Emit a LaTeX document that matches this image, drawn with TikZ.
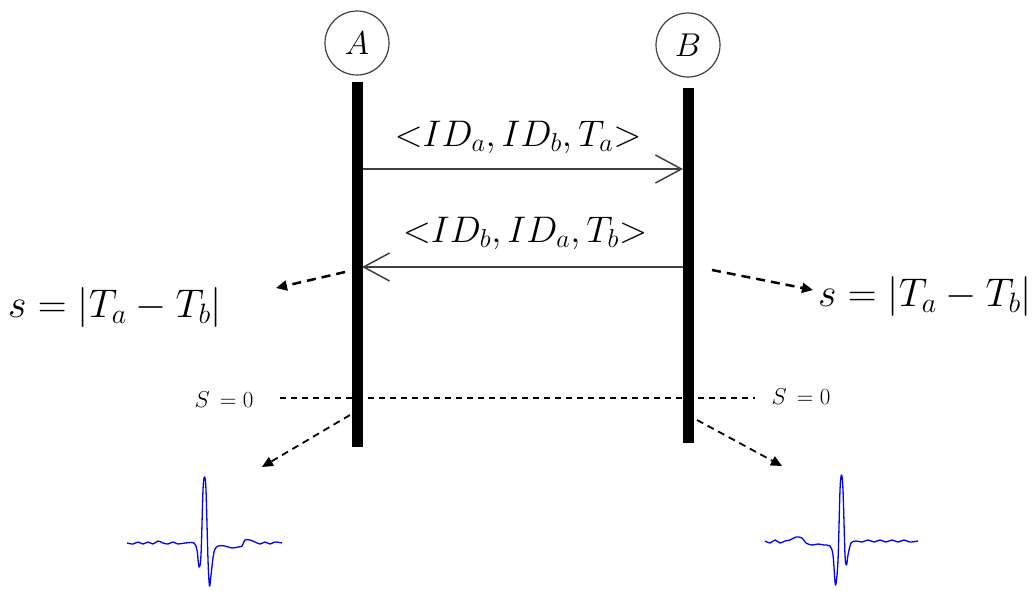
\RequirePackage{fix-cm}
\documentclass[tikz,border=0pt]{standalone}
\usetikzlibrary{arrows.meta}
\begin{document}
\begin{tikzpicture}[x=1pt,y=-1pt,
  party/.style={circle,draw=black!75,line width=1.2pt,minimum size=64pt,inner sep=0pt,font=\fontsize{33}{33}\selectfont},
  lifeline/.style={line width=11pt,black},
  msg/.style={draw=black!75,line width=1.5pt,-{Straight Barb[length=26pt,width=28pt,line width=1.5pt]}},
  msglabel/.style={font=\fontsize{37}{37}\selectfont},
  eqlabel/.style={font=\fontsize{40}{40}\selectfont},
  szlabel/.style={font=\fontsize{23}{23}\selectfont},
  note/.style={line width=2.5pt,dash pattern=on 9pt off 6pt,-{Triangle[length=11pt,width=10pt]}},
  lownote/.style={note,line width=1.8pt,dash pattern=on 7pt off 5pt},
  zeroline/.style={line width=1.5pt,dash pattern=on 6pt off 5pt},
  wave/.style={blue,line width=1.3pt,line join=round}
]
\useasboundingbox (0,0) rectangle (1035,590);
% parties
\node[party] (A) at (357,43) {$A$};
\node[party] (B) at (688,45) {$B$};
% lifelines
\coordinate (Atop) at (357,82);
\coordinate (Abot) at (357,447);
\coordinate (Btop) at (688,88);
\coordinate (Bbot) at (688,443);
\draw[lifeline] (Atop) -- (Abot);
\draw[lifeline] (Btop) -- (Bbot);
% messages
\coordinate (m1s) at (363,169);
\coordinate (m1e) at (683,169);
\coordinate (m2s) at (683,267);
\coordinate (m2e) at (362,267);
\draw[msg] (m1s) -- (m1e);
\draw[msg] (m2s) -- (m2e);
\node[msglabel] (l1) at (518,137) {${<}ID_a,ID_b,T_a{>}$};
\node[msglabel] (l2) at (525,233) {${<}ID_b,ID_a,T_b{>}$};
% s equations
\node[eqlabel] (eqL) at (115,307) {$s=|T_a-T_b|$};
\node[eqlabel] (eqR) at (925,296) {$s=|T_a-T_b|$};
\coordinate (nL1) at (345,272);
\coordinate (nL2) at (276,288);
\coordinate (nR1) at (712,270);
\coordinate (nR2) at (813,290);
\draw[note] (nL1) -- (nL2);
\draw[note] (nR1) -- (nR2);
% S = 0 line
\node[szlabel] (sL) at (224,400) {$S\,=0$};
\node[szlabel] (sR) at (801,397) {$S\,=0$};
\coordinate (zL) at (280,398);
\coordinate (zR) at (755,398);
\draw[zeroline] (zL) -- (zR);
% lower arrows
\coordinate (dL1) at (350,415);
\coordinate (dL2) at (262,467);
\coordinate (dR1) at (697,420);
\coordinate (dR2) at (782,466);
\draw[lownote] (dL1) -- (dL2);
\draw[lownote] (dR1) -- (dR2);
% waveforms
\draw[wave] plot[smooth,tension=0.5] coordinates {(127,543) (133,544) (138,542) (143,544) (148,542) (153,544) (158,541) (163,543) (168,544) (173,542) (178,544) (185,543) (194,543) (197,550) (199,567) (201,555) (203,490) (204.5,477) (206,490) (208,560) (209.5,586) (211,575) (214,552) (218,546) (225,546) (232,548) (238,547) (242,546) (245,540) (250,540) (255,542) (260,544) (265,542) (270,544) (275,542) (282,543)};
\draw[wave] plot[smooth,tension=0.5] coordinates {(765,541) (770,543) (775,540) (780,543) (785,541) (790,540) (796,537) (802,538) (806,543) (812,545) (818,544) (824,545) (830,546) (833,555) (835.5,585) (838,560) (840,490) (841.5,475) (843,490) (845,555) (846.5,565) (848,555) (851,543) (856,541) (862,542) (868,540) (874,542) (880,540) (886,542) (892,540) (898,542) (904,540) (910,542) (918,541)};
\end{tikzpicture}
\end{document}
